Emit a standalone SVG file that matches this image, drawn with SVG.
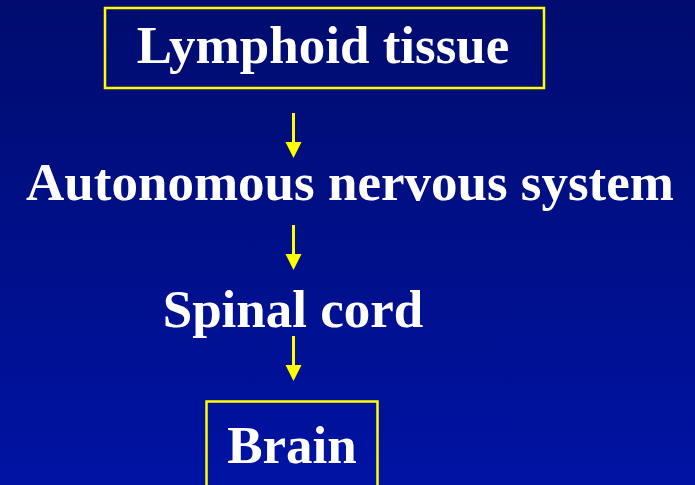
<svg xmlns="http://www.w3.org/2000/svg" width="695" height="485" viewBox="0 0 695 485">
<defs>
<linearGradient id="bg" x1="0" y1="0" x2="0" y2="1">
<stop offset="0" stop-color="#000c6e"/>
<stop offset="1" stop-color="#0013a3"/>
</linearGradient>
<path id="head" d="M-8,0 L8,0 L0,16 Z" fill="#ffff00"/>
<style>
.lbl{font-family:"Liberation Serif","Times New Roman",serif;font-weight:bold;font-size:53px;fill:#ffffff;text-anchor:middle}
.box{fill:none;stroke:#ffff00;stroke-width:2.5}
.conn{stroke:#ffff00;stroke-width:3;fill:none}
</style>
</defs>
<rect x="0" y="0" width="695" height="485" fill="url(#bg)"/>
<g id="lymphoid">
<rect class="box" x="105" y="8" width="439" height="80"/>
<text class="lbl" x="323" y="63">Lymphoid tissue</text>
</g>
<g id="autonomous">
<text class="lbl" x="350" y="200">Autonomous nervous system</text>
</g>
<g id="spinal">
<text class="lbl" x="293" y="327">Spinal cord</text>
</g>
<g id="brain">
<rect class="box" x="206.5" y="401.5" width="171" height="90"/>
<text class="lbl" x="292" y="463">Brain</text>
</g>
<g id="connectors">
<line class="conn" x1="293.5" y1="113" x2="293.5" y2="145"/>
<use href="#head" x="293.5" y="142"/>
<line class="conn" x1="293.5" y1="225" x2="293.5" y2="256"/>
<use href="#head" x="293.5" y="254"/>
<line class="conn" x1="293.5" y1="336" x2="293.5" y2="367"/>
<use href="#head" x="293.5" y="365"/>
</g>
</svg>
